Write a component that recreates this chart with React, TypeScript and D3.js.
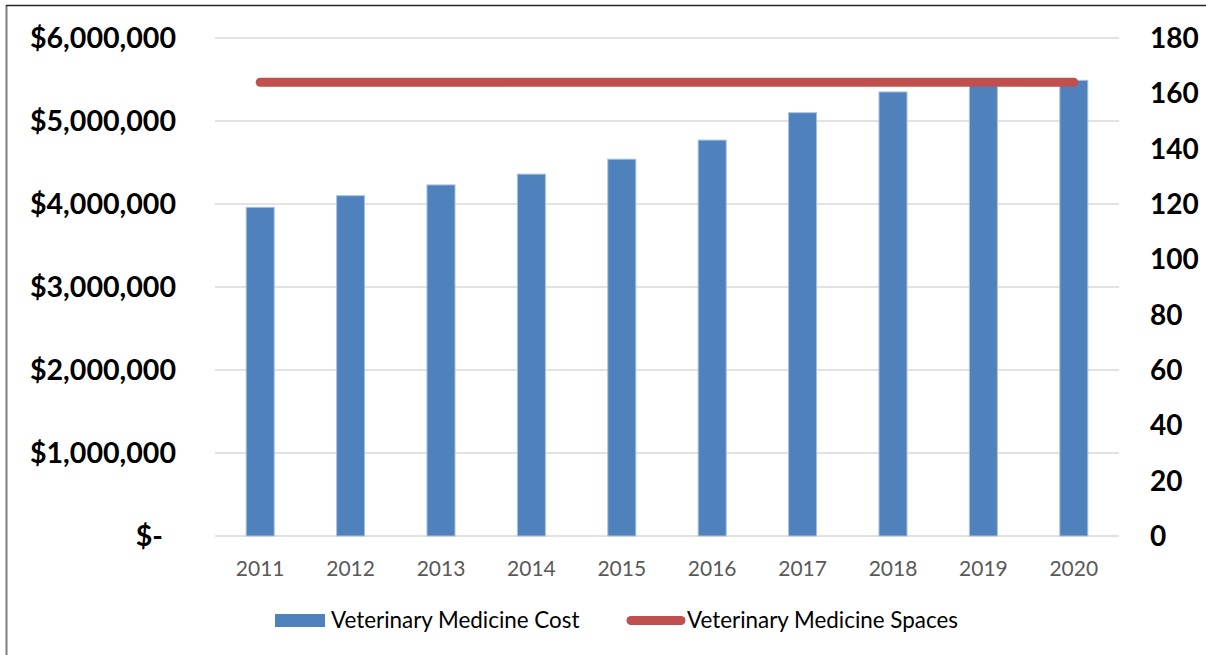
import { useEffect, useRef } from 'react'
import * as d3 from 'd3'

const YEARS = ['2011', '2012', '2013', '2014', '2015', '2016', '2017', '2018', '2019', '2020']
const COST = [3960000, 4100000, 4230000, 4360000, 4540000, 4770000, 5100000, 5350000, 5450000, 5490000]
const SPACES = [164, 164, 164, 164, 164, 164, 164, 164, 164, 164]
const COST_TICKS = [0, 1000000, 2000000, 3000000, 4000000, 5000000, 6000000]
const SPACE_TICKS = [0, 20, 40, 60, 80, 100, 120, 140, 160, 180]
const SERIES = ['Veterinary Medicine Cost', 'Veterinary Medicine Spaces']

const BLUE = '#4F81BD'
const RED = '#C0504D'
const FONT = 'Lato, "Open Sans", sans-serif'

export default function App() {
  const ref = useRef<SVGSVGElement>(null)

  useEffect(() => {
    const svg = d3.select(ref.current)
    svg.selectAll('*').remove()

    const width = 1206
    const height = 655
    const plot = { left: 215, right: 1119, top: 38, bottom: 536 }

    svg.attr('width', width).attr('height', height)

    // outer frame (cropped in the reference)
    svg.append('line').attr('x1', 6.5).attr('x2', 6.5).attr('y1', 5).attr('y2', height)
      .attr('stroke', '#7f7f7f').attr('stroke-width', 2)
    svg.append('line').attr('x1', 6).attr('x2', width).attr('y1', 5.5).attr('y2', 5.5)
      .attr('stroke', '#262626').attr('stroke-width', 1.5)

    const x = d3.scaleBand().domain(YEARS).range([plot.left, plot.right]).paddingInner(0.69).paddingOuter(0.345)
    const yL = d3.scaleLinear().domain([0, 6000000]).range([plot.bottom, plot.top])
    const yR = d3.scaleLinear().domain([0, 180]).range([plot.bottom, plot.top])

    // gridlines
    svg.append('g').selectAll('line').data(COST_TICKS).join('line')
      .attr('x1', plot.left).attr('x2', plot.right)
      .attr('y1', d => yL(d)).attr('y2', d => yL(d))
      .attr('stroke', '#D9D9D9').attr('stroke-width', 1.5)

    // left axis labels
    svg.append('g').selectAll('text').data(COST_TICKS).join('text')
      .attr('x', d => (d === 0 ? 163 : 176))
      .attr('y', d => yL(d))
      .attr('dy', '0.36em')
      .attr('text-anchor', 'end')
      .attr('font-family', FONT).attr('font-weight', 700).attr('font-size', 28.6)
      .attr('fill', '#000')
      .text(d => (d === 0 ? '$-' : '$' + d3.format(',')(d)))

    // right axis labels
    svg.append('g').selectAll('text').data(SPACE_TICKS).join('text')
      .attr('x', 1150)
      .attr('y', d => yR(d))
      .attr('dy', '0.36em')
      .attr('text-anchor', 'start')
      .attr('font-family', FONT).attr('font-weight', 700).attr('font-size', 28)
      .attr('fill', '#000')
      .text(d => String(d))

    // bars
    svg.append('g').selectAll('rect').data(COST).join('rect')
      .attr('x', (_, i) => x(YEARS[i])!)
      .attr('width', x.bandwidth())
      .attr('y', d => yL(d))
      .attr('height', d => plot.bottom - yL(d))
      .attr('fill', BLUE)
      .attr('stroke', '#A9C0DF').attr('stroke-width', 1)

    // x labels
    svg.append('g').selectAll('text').data(YEARS).join('text')
      .attr('x', d => x(d)! + x.bandwidth() / 2)
      .attr('y', 576)
      .attr('text-anchor', 'middle')
      .attr('font-family', FONT).attr('font-size', 21)
      .attr('fill', '#595959')
      .text(d => d)

    // line
    const line = d3.line<number>()
      .x((_, i) => x(YEARS[i])! + x.bandwidth() / 2)
      .y(d => yR(d))
    svg.append('path').datum(SPACES)
      .attr('d', line)
      .attr('fill', 'none').attr('stroke', RED).attr('stroke-width', 9)
      .attr('stroke-linecap', 'round').attr('stroke-linejoin', 'round')

    // legend
    const lg = svg.append('g')
    lg.append('rect').attr('x', 275).attr('y', 614).attr('width', 50).attr('height', 13).attr('fill', BLUE)
    lg.append('text').attr('x', 331).attr('y', 628)
      .attr('font-family', FONT).attr('font-size', 22.4).attr('fill', '#000').text(SERIES[0])
    lg.append('line').attr('x1', 631).attr('x2', 681).attr('y1', 620.5).attr('y2', 620.5)
      .attr('stroke', RED).attr('stroke-width', 9).attr('stroke-linecap', 'round')
    lg.append('text').attr('x', 687).attr('y', 628)
      .attr('font-family', FONT).attr('font-size', 22.4).attr('fill', '#000').text(SERIES[1])
  }, [])

  return (
    <div style={{ position: 'absolute', left: 0, top: 0 }}>
      <svg ref={ref} style={{ display: 'block', background: '#fff' }} />
    </div>
  )
}
